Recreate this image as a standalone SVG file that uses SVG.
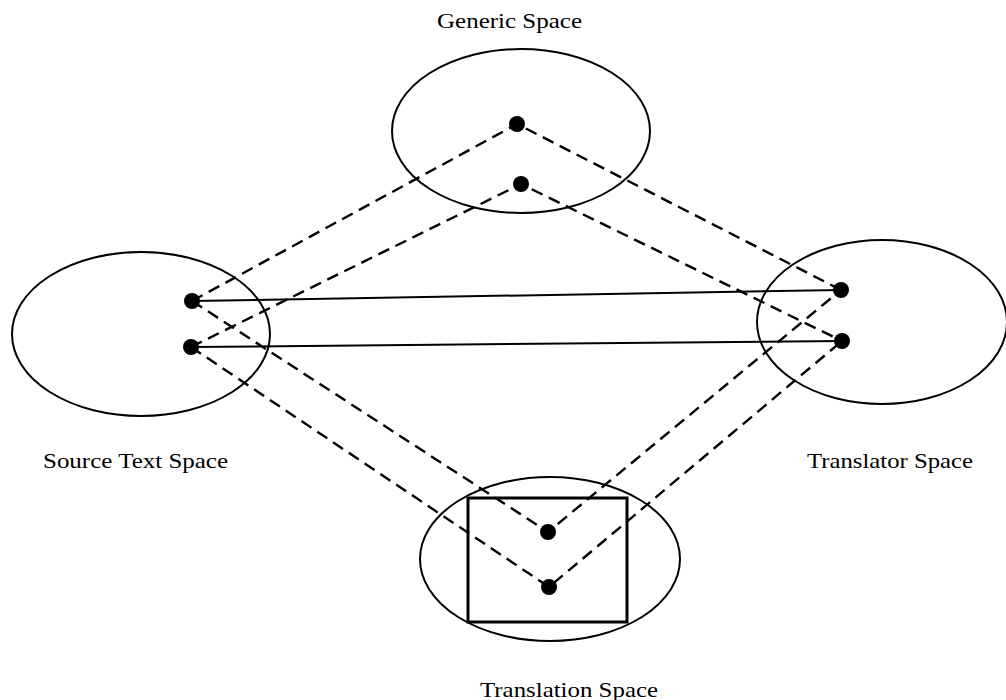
<svg xmlns="http://www.w3.org/2000/svg" width="1006" height="700" viewBox="0 0 1006 700">
  <style>
    .space { fill: none; stroke: #000; stroke-width: 2; }
    .frame { fill: none; stroke: #000; stroke-width: 3; }
    .dot { fill: #000; }
    .map { fill: none; stroke: #000; stroke-width: 2.4; stroke-dasharray: 12 7; }
    .link { fill: none; stroke: #000; stroke-width: 2; }
    .label { font-family: "Liberation Serif", "Times New Roman", serif; font-size: 21px; fill: #000; }
  </style>
  <rect width="1006" height="700" fill="#fff"/>

  <!-- connectors: dashed projections and solid cross-space links -->
  <g id="connectors">
    <path class="map" d="M192,301 L517,124 L841,290"/>
    <path class="map" d="M191,347 L521,184 L842,341"/>
    <path class="map" d="M192,301 L548,532 L841,290"/>
    <path class="map" d="M191,347 L549,587 L842,341"/>
    <line class="link" x1="192" y1="301" x2="841" y2="290"/>
    <line class="link" x1="191" y1="347" x2="842" y2="341"/>
  </g>

  <g id="generic-space">
    <ellipse class="space" cx="521" cy="131" rx="129" ry="82"/>
    <circle class="dot" cx="517" cy="124" r="8"/>
    <circle class="dot" cx="521" cy="184" r="8"/>
    <text class="label" x="437" y="28" textLength="145" lengthAdjust="spacingAndGlyphs">Generic Space</text>
  </g>

  <g id="source-text-space">
    <ellipse class="space" cx="141" cy="334" rx="129" ry="82"/>
    <circle class="dot" cx="192" cy="301" r="8"/>
    <circle class="dot" cx="191" cy="347" r="8"/>
    <text class="label" x="43" y="468" textLength="185" lengthAdjust="spacingAndGlyphs">Source Text Space</text>
  </g>

  <g id="translator-space">
    <ellipse class="space" cx="882" cy="322" rx="125" ry="82"/>
    <circle class="dot" cx="841" cy="290" r="8"/>
    <circle class="dot" cx="842" cy="341" r="8"/>
    <text class="label" x="807" y="468" textLength="166" lengthAdjust="spacingAndGlyphs">Translator Space</text>
  </g>

  <g id="translation-space">
    <ellipse class="space" cx="550" cy="559" rx="130" ry="82"/>
    <rect class="frame" x="468" y="498" width="159" height="124"/>
    <circle class="dot" cx="548" cy="532" r="8"/>
    <circle class="dot" cx="549" cy="587" r="8"/>
    <text class="label" x="480" y="697" textLength="178" lengthAdjust="spacingAndGlyphs">Translation Space</text>
  </g>
</svg>
